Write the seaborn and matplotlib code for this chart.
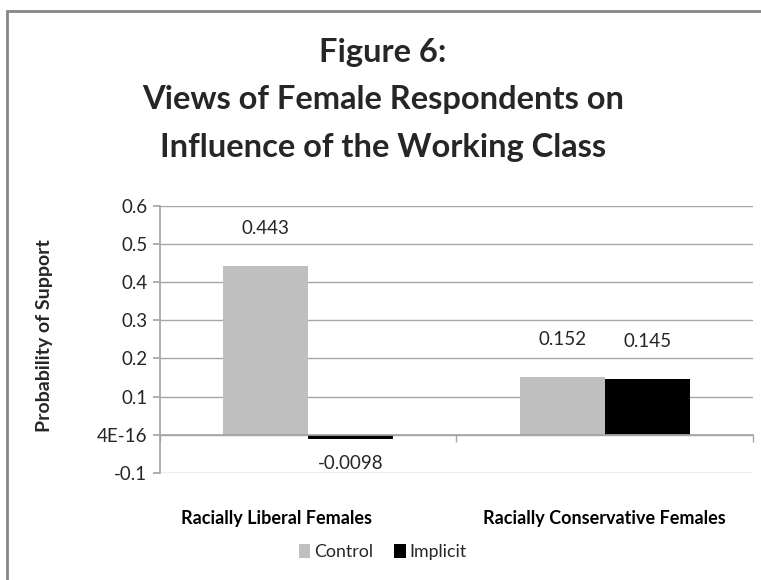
import matplotlib
matplotlib.use("Agg")
import matplotlib.pyplot as plt
import matplotlib.transforms as mtransforms
from matplotlib.patches import Rectangle, Patch
import seaborn as sns
import pandas as pd

# Chart data
groups = ["Racially Liberal Females", "Racially Conservative Females"]
conditions = ["Control", "Implicit"]
control_vals = [0.443, 0.152]
implicit_vals = [-0.0098, 0.145]
value_labels = {"Control": ["0.443", "0.152"], "Implicit": ["-0.0098", "0.145"]}
y_ticks = [-0.1, 0.0, 0.1, 0.2, 0.3, 0.4, 0.5, 0.6]
y_tick_labels = ["-0.1", "4E-16", "0.1", "0.2", "0.3", "0.4", "0.5", "0.6"]
colors = {"Control": "#bfbfbf", "Implicit": "#000000"}

df = pd.DataFrame({
    "group": groups * 2,
    "condition": ["Control"] * 2 + ["Implicit"] * 2,
    "value": control_vals + implicit_vals,
})

sns.set_theme(style="white")
FONT = ["Lato", "DejaVu Sans"]
plt.rcParams["font.family"] = FONT

fig = plt.figure(figsize=(7.61, 5.80), dpi=100)
ax = fig.add_axes([0.2102, 0.1845, 0.7793, 0.4608])

sns.barplot(data=df, x="group", y="value", hue="condition", order=groups,
            hue_order=conditions, palette=colors, width=0.574, gap=0,
            saturation=1, ax=ax, legend=False, edgecolor="none")

ax.set_xlim(-0.5, 1.5)
ax.set_ylim(-0.1, 0.6)
ax.set_yticks(y_ticks)
ax.set_yticklabels(y_tick_labels)
ax.yaxis.grid(True, color="#a6a6a6", linewidth=1)
ax.set_axisbelow(True)

for side in ["top", "right"]:
    ax.spines[side].set_visible(False)
ax.spines["left"].set_color("#a6a6a6")
ax.spines["bottom"].set_position(("data", 0))
ax.spines["bottom"].set_color("#a6a6a6")

ax.tick_params(axis="y", length=5, color="#a6a6a6", labelsize=13.5,
               labelcolor="#262626", pad=4, left=True)
ax.set_xticks([0, 1])
ax.set_xticklabels(groups, fontsize=13, fontweight="bold", color="#000000")
ax.tick_params(axis="x", which="major", length=0, pad=54)
ax.set_xticks([-0.5, 0.5, 1.5], minor=True)
ax.tick_params(axis="x", which="minor", length=5, color="#a6a6a6",
               direction="out", bottom=True)
# first category label sits a little left of its column
shift = mtransforms.ScaledTranslation(-32 / 100, 0, fig.dpi_scale_trans)
lbl0 = ax.get_xticklabels()[0]
lbl0.set_transform(lbl0.get_transform() + shift)

ax.set_xlabel("")
ax.set_ylabel("Probability of Support", fontsize=14, fontweight="bold")
ax.yaxis.set_label_coords(-0.180, 0.516)

# value labels above/below each bar
for container, cond in zip(ax.containers, conditions):
    for bar, txt in zip(container, value_labels[cond]):
        h = bar.get_height()
        x = bar.get_x() + bar.get_width() / 2
        off = 27 if h >= 0 else -18
        ax.annotate(txt, (x, h), xytext=(0, off), textcoords="offset points",
                    ha="center", va="center", fontsize=13.5, color="#262626")

title_lines = ["Figure 6:", "Views of Female Respondents on",
               "Influence of the Working Class"]
for ty, line in zip([0.91, 0.8276, 0.745], title_lines):
    fig.text(0.503, ty, line, ha="center", va="center", fontsize=23.5,
             fontweight="bold")

handles = [Patch(facecolor=colors[c], edgecolor="none") for c in conditions]
fig.legend(handles, conditions, loc="center", bbox_to_anchor=(0.503, 0.048),
           ncol=2, frameon=False, fontsize=12.8, handlelength=0.65,
           handleheight=0.8, handletextpad=0.2, columnspacing=1.2)

fig.patches.append(Rectangle((7 / 761, -0.1), 1.2, 1 - 10.5 / 580 + 0.1,
                             transform=fig.transFigure, fill=False,
                             edgecolor="#868686", linewidth=2))

fig.savefig("out.png", dpi=100, facecolor="white")
